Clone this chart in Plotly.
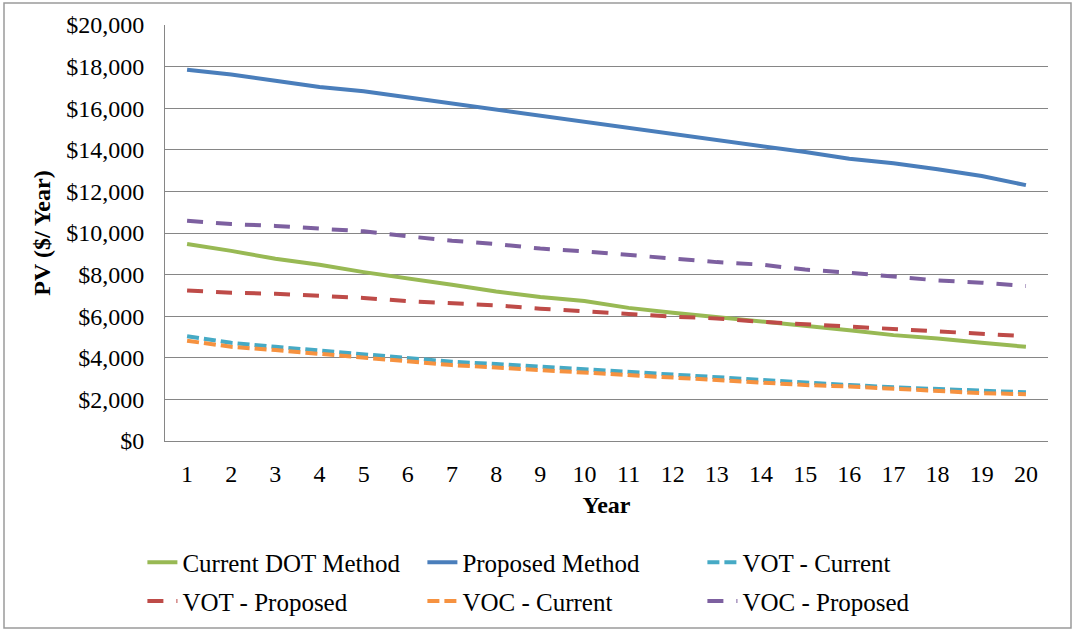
import plotly.graph_objects as go

years = list(range(1, 21))
current_dot = [9470, 9140, 8760, 8470, 8120, 7830, 7510, 7190, 6920, 6730, 6400, 6170, 5960, 5760, 5570, 5330, 5090, 4930, 4720, 4530]
proposed = [17850, 17620, 17320, 17020, 16810, 16520, 16220, 15930, 15630, 15330, 15050, 14770, 14460, 14180, 13890, 13570, 13350, 13060, 12740, 12300]
vot_current = [5040, 4720, 4530, 4340, 4160, 3970, 3810, 3700, 3570, 3450, 3300, 3170, 3050, 2930, 2820, 2690, 2580, 2500, 2430, 2340]
vot_proposed = [7240, 7130, 7080, 7000, 6880, 6720, 6640, 6520, 6360, 6250, 6110, 5980, 5890, 5730, 5610, 5520, 5410, 5280, 5170, 5040]
voc_current = [4820, 4530, 4370, 4180, 4000, 3810, 3650, 3530, 3410, 3300, 3170, 3050, 2930, 2820, 2690, 2620, 2500, 2380, 2300, 2250]
voc_proposed = [10590, 10430, 10340, 10220, 10080, 9840, 9630, 9470, 9250, 9120, 8950, 8760, 8600, 8480, 8240, 8090, 7910, 7720, 7610, 7450]
y_ticks = list(range(0, 20001, 2000))
y_tick_labels = ["$" + format(v, ",") for v in y_ticks]

FONT = "Liberation Serif"
series = [
    ("Current DOT Method", current_dot, "#98B954", "solid", "legend"),
    ("Proposed Method", proposed, "#4A7EBB", "solid", "legend"),
    ("VOT - Current", vot_current, "#46AAC5", "12px,5px", "legend"),
    ("VOT - Proposed", vot_proposed, "#BE4B48", "16px,13px", "legend2"),
    ("VOC - Current", voc_current, "#F69240", "12px,5px", "legend2"),
    ("VOC - Proposed", voc_proposed, "#7D60A0", "16px,13px", "legend2"),
]

fig = go.Figure()
for name, vals, color, dash, lg in series:
    fig.add_trace(go.Scatter(x=years, y=vals, name=name, mode="lines", legend=lg,
                             line=dict(color=color, width=4, dash=dash)))

legend_common = dict(orientation="h", xanchor="left", yanchor="top",
                     entrywidth=235, entrywidthmode="pixels",
                     font=dict(family=FONT, size=25), itemwidth=30,
                     bgcolor="rgba(0,0,0,0)")

fig.update_layout(
    width=1074, height=636,
    margin=dict(l=165, r=26, t=25, b=193),
    paper_bgcolor="white", plot_bgcolor="white",
    font=dict(family=FONT, size=24, color="black"),
    showlegend=True,
    legend=dict(x=-0.0256, y=-0.2368, **legend_common),
    legend2=dict(x=-0.0256, y=-0.3301, **legend_common),
    xaxis=dict(range=[0.5, 20.5], tickmode="array", tickvals=years,
               ticktext=[str(y) for y in years], showgrid=False,
               showline=True, linecolor="#868686", linewidth=1,
               ticks="", ticklabelstandoff=11,
               title=dict(text="<b>Year</b>", font=dict(size=24), standoff=10)),
    yaxis=dict(range=[0, 20000], tickmode="array", tickvals=y_ticks,
               ticktext=y_tick_labels, showgrid=True, gridcolor="#868686",
               gridwidth=1, showline=True, linecolor="#868686", linewidth=1,
               zeroline=False, ticks="", ticklabelstandoff=15,
               title=dict(text="<b>PV ($/ Year)</b>", font=dict(size=24), standoff=8)),
)

fig.add_shape(type="rect", xref="paper", yref="paper",
              x0=(4 - 165) / 883, x1=(1071 - 165) / 883,
              y0=(443 - 631) / 418, y1=(443 - 3) / 418,
              line=dict(color="#9a9a9a", width=1.5), fillcolor="rgba(0,0,0,0)", layer="below")

fig.write_html("out.html", config={"displayModeBar": False},
               post_script="document.body.style.margin='0';document.body.style.overflow='hidden';")
